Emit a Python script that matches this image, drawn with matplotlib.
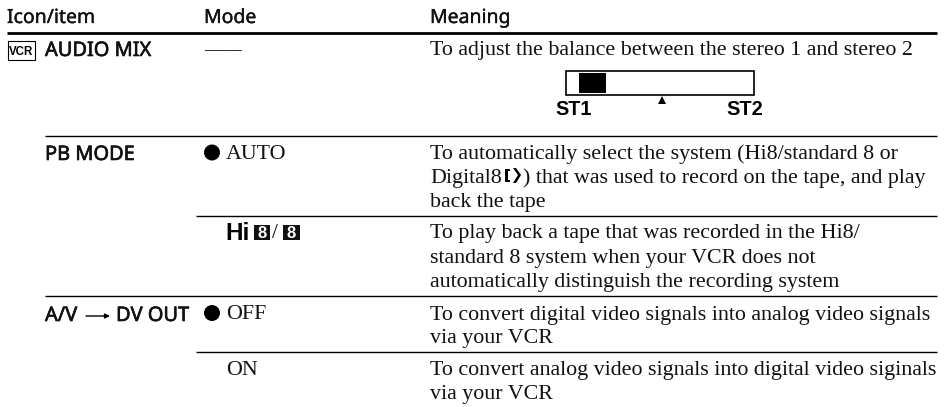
import matplotlib
matplotlib.use("Agg")
from matplotlib import pyplot as plt
from matplotlib import patheffects as pe
from matplotlib.patches import Rectangle, Circle, Polygon

SERIF = "Liberation Serif"
SANS = "Noto Sans"
ARIAL = "Liberation Sans"
BODY_SIZE = 15.8

headers = ["Icon/item", "Mode", "Meaning"]
header_x = [7, 204, 430]

items = ["AUDIO MIX", "PB MODE", "A/V", "DV OUT"]
item_x = [45, 45, 45, 116]
item_y = [56, 160, 321, 321]

modes = ["AUTO", "OFF", "ON"]
mode_x = [226, 226, 226]
mode_y = [159, 319, 375]

meaning = [
    "To adjust the balance between the stereo 1 and stereo 2",
    "To automatically select the system (Hi8/standard 8 or",
    "Digital8",
    "back the tape",
    "To play back a tape that was recorded in the Hi8/",
    "standard 8 system when your VCR does not",
    "automatically distinguish the recording system",
    "To convert digital video signals into analog video signals",
    "via your VCR",
    "To convert analog video signals into digital video siginals",
    "via your VCR",
]
meaning_y = [55, 159, 183, 207, 238, 263, 287, 320, 343, 375, 399]

# y, x start, x end, width
rules = [(33, 7, 937, 2.0), (136, 45, 937, 1.0), (216, 196, 937, 1.0),
         (296, 45, 937, 1.0), (352, 196, 937, 1.0)]

fig = plt.figure(figsize=(9.51, 4.07), dpi=100)
ax = fig.add_axes([0, 0, 1, 1])
ax.set_xlim(0, 951)
ax.set_ylim(407, 0)
ax.axis("off")

for y, x0, x1, lw in rules:
    ax.plot([x0, x1], [y, y], color="black", lw=lw, solid_capstyle="butt")

# the sans faces come without a bold cut here, so thicken them with a stroke
for txt, x in zip(headers, header_x):
    ax.text(x, 23, txt, family=SANS, fontsize=14, va="baseline", color="#111111",
            path_effects=[pe.withStroke(linewidth=0.25, foreground="#111111")])
for txt, x, y in zip(items, item_x, item_y):
    ax.text(x, y, txt, family=SANS, fontsize=14.4, va="baseline", color="#111111",
            path_effects=[pe.withStroke(linewidth=0.45, foreground="#111111")])
for txt, x, y in zip(modes, mode_x, mode_y):
    ax.text(x, y, txt, family=SERIF, fontsize=BODY_SIZE, va="baseline", color="#111111")
for txt, y in zip(meaning, meaning_y):
    ax.text(430, y, txt, family=SERIF, fontsize=BODY_SIZE, va="baseline", color="#111111")
ax.text(523, 183, ") that was used to record on the tape, and play", family=SERIF,
        fontsize=BODY_SIZE, va="baseline", color="#111111")
ax.text(204, 55, "–––", family=SERIF, fontsize=18, va="baseline", color="#333333")

# arrow of A/V -> DV OUT
ax.annotate("", xy=(110, 316), xytext=(86, 316),
            arrowprops=dict(arrowstyle="-|>", lw=1, color="black", mutation_scale=7, shrinkA=0, shrinkB=0))

# VCR icon
ax.add_patch(Rectangle((8, 41), 27, 19, fill=False, ec="black", lw=0.8))
ax.text(21.5, 55, "VCR", family=ARIAL, weight="bold", fontsize=8.3, ha="center", va="baseline")

# bullets
ax.add_patch(Circle((212, 152.5), 8, color="black", lw=0))
ax.add_patch(Circle((212, 313), 8, color="black", lw=0))

# Hi8/8 logo
ax.text(225, 240, "Hi", family=ARIAL, weight="bold", fontsize=17.5, va="baseline")
ax.add_patch(Rectangle((254, 225), 16, 15, color="#111111", lw=0))
ax.text(262, 238, "8", family=ARIAL, weight="bold", fontsize=12, ha="center", va="baseline", color="white")
ax.text(272, 238, "/", family=SERIF, fontsize=15, va="baseline")
ax.add_patch(Rectangle((283, 225), 17, 15, color="#111111", lw=0))
ax.text(291.5, 238, "8", family=ARIAL, weight="bold", fontsize=12, ha="center", va="baseline", color="white")

# Digital8 mark
ax.add_patch(Rectangle((505, 169), 2.5, 13, color="black", lw=0))
ax.add_patch(Rectangle((507, 169), 3, 2, color="black", lw=0))
ax.add_patch(Rectangle((507, 180), 3, 2, color="black", lw=0))
ax.add_patch(Polygon([(513, 168), (518, 175), (513, 183), (516, 183), (521, 175), (516, 168)], color="black", lw=0))

# balance slider
ax.add_patch(Rectangle((566, 71), 188, 24, fill=False, ec="black", lw=1.2))
ax.add_patch(Rectangle((579, 73), 27, 20, color="black", lw=0))
ax.add_patch(Polygon([(662, 96), (658, 104), (666, 104)], color="black", lw=0))
ax.text(555, 115, "ST1", family=ARIAL, weight="bold", fontsize=14.2, va="baseline")
ax.text(726, 115, "ST2", family=ARIAL, weight="bold", fontsize=14.4, va="baseline")

fig.savefig("out.png", dpi=100, facecolor="white")
